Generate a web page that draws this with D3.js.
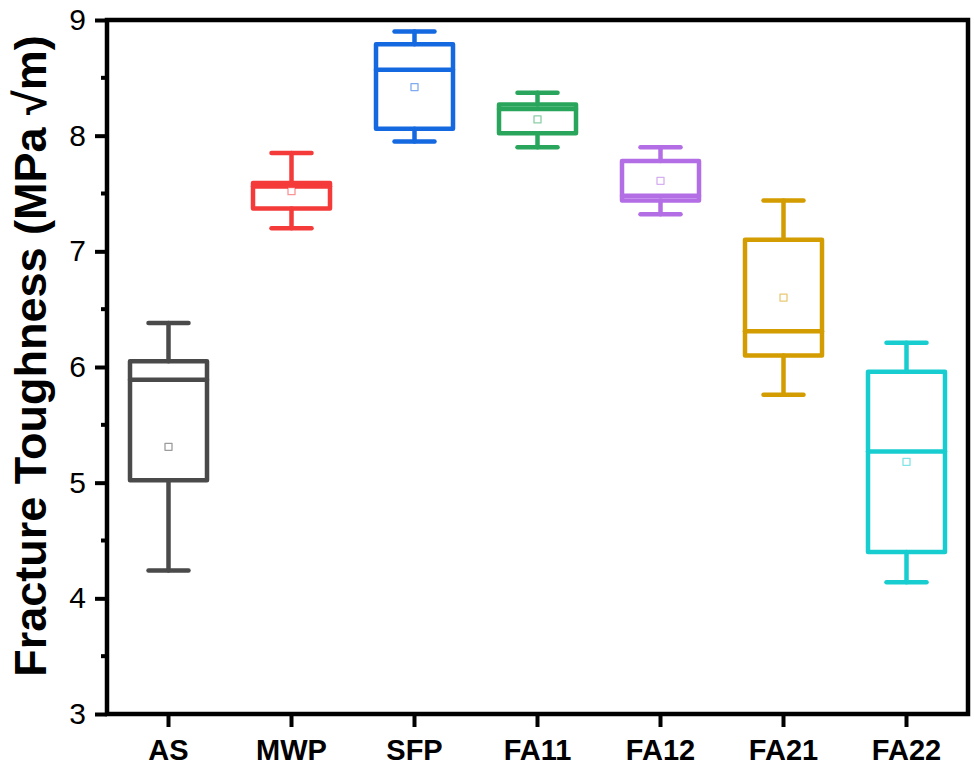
<!DOCTYPE html>
<html>
<head>
<meta charset="utf-8">
<script src="https://cdn.jsdelivr.net/npm/d3@7.9.0/dist/d3.min.js"></script>
<style>
  body { margin: 0; background: #fff; }
  svg { display: block; font-family: Arial, "Liberation Sans", sans-serif; }
</style>
</head>
<body>
<div id="viz"></div>
<script>
// Box statistics
const categories  = ["AS", "MWP", "SFP", "FA11", "FA12", "FA21", "FA22"];
const whiskerLow  = [4.24, 7.20, 7.95, 7.90, 7.32, 5.76, 4.14];
const q1          = [5.02, 7.37, 8.06, 8.02, 7.44, 6.10, 4.40];
const medians     = [5.89, 7.56, 8.57, 8.23, 7.48, 6.31, 5.27];
const q3          = [6.05, 7.59, 8.79, 8.27, 7.78, 7.10, 5.96];
const whiskerHigh = [6.38, 7.85, 8.90, 8.37, 7.90, 7.44, 6.21];
const means       = [5.31, 7.52, 8.42, 8.14, 7.61, 6.60, 5.18];
const colors      = ["#4a4a4a", "#f53a3a", "#1468e0", "#2aa65c", "#b36ee6", "#d39c00", "#18cdd0"];
const yTicks      = [3, 4, 5, 6, 7, 8, 9];
const yMinorTicks = [3.5, 4.5, 5.5, 6.5, 7.5, 8.5];

const width = 974, height = 767;
const margin = {top: 20, right: 6, bottom: 53, left: 107};

const svg = d3.select("#viz").append("svg")
    .attr("width", width)
    .attr("height", height);

const x = d3.scaleBand()
    .domain(categories)
    .range([margin.left, width - margin.right])
    .padding(0);

const y = d3.scaleLinear()
    .domain([3, 9])
    .range([height - margin.bottom, margin.top]);

const boxes = categories.map((c, i) => ({
    name: c,
    lo: whiskerLow[i], q1: q1[i], med: medians[i], q3: q3[i], hi: whiskerHigh[i],
    mean: means[i], color: colors[i]
}));

const boxW = 77;   // box width (stroke centres)
const capW = 40;   // whisker cap width
const lw = 4.5;

const g = svg.append("g").attr("class", "boxes");

const box = g.selectAll("g.box")
    .data(boxes)
    .join("g")
    .attr("class", "box")
    .attr("transform", d => `translate(${x(d.name) + x.bandwidth() / 2},0)`)
    .attr("stroke", d => d.color)
    .attr("stroke-width", lw)
    .attr("stroke-linecap", "round")
    .attr("stroke-linejoin", "round")
    .attr("fill", "none");

// whisker stems
box.append("line").attr("x1", 0).attr("x2", 0)
    .attr("y1", d => y(d.hi)).attr("y2", d => y(d.q3));
box.append("line").attr("x1", 0).attr("x2", 0)
    .attr("y1", d => y(d.q1)).attr("y2", d => y(d.lo));
// caps
box.append("line").attr("x1", -capW / 2).attr("x2", capW / 2)
    .attr("y1", d => y(d.hi)).attr("y2", d => y(d.hi));
box.append("line").attr("x1", -capW / 2).attr("x2", capW / 2)
    .attr("y1", d => y(d.lo)).attr("y2", d => y(d.lo));
// box
box.append("rect")
    .attr("x", -boxW / 2)
    .attr("width", boxW)
    .attr("y", d => y(d.q3))
    .attr("height", d => y(d.q1) - y(d.q3));
// median
box.append("line").attr("x1", -boxW / 2).attr("x2", boxW / 2)
    .attr("y1", d => y(d.med)).attr("y2", d => y(d.med));
// mean marker
box.append("rect")
    .attr("x", -3.5).attr("width", 7)
    .attr("y", d => y(d.mean) - 3.5).attr("height", 7)
    .attr("stroke-width", 1.3)
    .attr("stroke-opacity", 0.55)
    .attr("fill", "#fff");

// frame
svg.append("rect")
    .attr("x", margin.left)
    .attr("y", margin.top)
    .attr("width", width - margin.left - margin.right)
    .attr("height", height - margin.top - margin.bottom)
    .attr("fill", "none")
    .attr("stroke", "#000")
    .attr("stroke-width", 4.5);

// y axis
const yAxis = svg.append("g")
    .attr("transform", `translate(${margin.left},0)`)
    .call(d3.axisLeft(y).tickValues(yTicks).tickSize(12).tickPadding(9).tickFormat(d3.format("d")));
yAxis.select(".domain").remove();
yAxis.selectAll(".tick line").attr("stroke", "#000").attr("stroke-width", 4);
yAxis.selectAll(".tick text").attr("font-size", "30px").attr("fill", "#000")
    .attr("font-family", "Arial, 'Liberation Sans', sans-serif");

svg.append("g").selectAll("line")
    .data(yMinorTicks)
    .join("line")
    .attr("x1", margin.left - 6).attr("x2", margin.left)
    .attr("y1", d => y(d)).attr("y2", d => y(d))
    .attr("stroke", "#000").attr("stroke-width", 4);

// x axis
const xAxis = svg.append("g")
    .attr("transform", `translate(0,${height - margin.bottom})`)
    .call(d3.axisBottom(x).tickSize(13).tickPadding(12));
xAxis.select(".domain").remove();
xAxis.selectAll(".tick line").attr("stroke", "#000").attr("stroke-width", 4);
xAxis.selectAll(".tick text").attr("font-size", "29px").attr("font-weight", "bold").attr("fill", "#000")
    .attr("font-family", "Arial, 'Liberation Sans', sans-serif");

// y title
svg.append("text")
    .attr("transform", `translate(46,356) rotate(-90)`)
    .attr("text-anchor", "middle")
    .attr("font-size", "45px")
    .attr("font-weight", "bold")
    .text("Fracture Toughness (MPa \u221Am)");
</script>
</body>
</html>
